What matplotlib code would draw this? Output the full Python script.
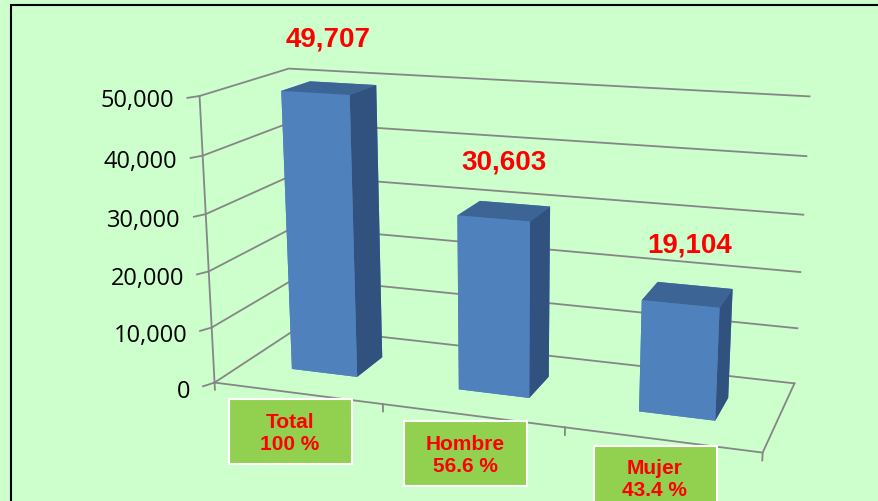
import matplotlib.pyplot as plt
import numpy as np
from matplotlib.patches import Rectangle
from matplotlib.transforms import IdentityTransform
from mpl_toolkits.mplot3d import proj3d

categories = ['Total', 'Hombre', 'Mujer']
shares = ['100 %', '56.6 %', '43.4 %']
values = [49707, 30603, 19104]
z_ticks = [0, 10000, 20000, 30000, 40000, 50000]

bg = '#CCFFCC'
grid_c = '#868686'
n = len(values)
plt.rcParams['font.family'] = ['Liberation Sans', 'DejaVu Sans']

fig = plt.figure(figsize=(8.79, 5.02), dpi=100)
fig.patch.set_facecolor(bg)
ax = fig.add_axes([0.066, 0.0, 1, 1], projection='3d', computed_zorder=False)
ax.set_facecolor(bg)
ax.set_axis_off()
ax.set_proj_type('persp', focal_length=0.56)
ax.view_init(elev=15, azim=-71)
ax.set_box_aspect((2.03, 0.69, 1.07), zoom=1.285)

line_kw = dict(color=grid_c, lw=1.3, zorder=1, clip_on=False)
# walls: grid lines on left and back wall
for z in z_ticks:
    ax.plot([0, 0, n], [0, 1, 1], [z, z, z], **line_kw)
    ax.plot([-0.03, 0], [-0.07, 0], [z, z], **line_kw)
    ax.text(-0.06, -0.15, z, f'{z:,}', ha='right', va='center',
            fontsize=17, family='Open Sans')
ax.plot([0, 0], [0, 0], [0, z_ticks[-1]], **line_kw)
ax.plot([0, n, n], [0, 0, 1], [0, 0, 0], **line_kw)
for i in range(n + 1):
    ax.plot([i, i], [0, 0], [0, -1300], **line_kw)

# bars, faces: bottom, top, front, back, left, right
w, d = 0.4, 0.34
face_cols = ['#4F81BD', '#3C6596', '#4F81BD', '#4F81BD', '#4F81BD', '#31527E'] * n
bars = ax.bar3d(np.arange(n) + 0.5 - w / 2, np.full(n, 0.5 - d / 2), np.zeros(n),
                w, d, values, color=face_cols, shade=False, zorder=2)
bars.set_clip_on(False)

for i, v in enumerate(values):
    ax.text(i + 0.5, 0.5, v + 8500, f'{v:,}', color='red', fontsize=20,
            fontweight='bold', ha='center', va='center', zorder=5)

ax.set_xlim(0, n)
ax.set_ylim(0, 1)
ax.set_zlim(0, z_ticks[-1])

# category boxes under the floor
fig.canvas.draw()
M = ax.get_proj()
for i, (c, s) in enumerate(zip(categories, shares)):
    px, py, _ = proj3d.proj_transform(i + 0.5, 0, 0, M)
    X, Y = ax.transData.transform((px, py))
    cx, cy = X - 7, Y - 39
    fig.add_artist(Rectangle((cx - 61, cy - 32), 123, 65, facecolor='#92D050',
                             edgecolor='white', lw=1.5, transform=IdentityTransform()))
    fig.text(cx, cy, f'{c}\n{s}', transform=IdentityTransform(), color='red',
             fontsize=15, fontweight='bold', ha='center', va='center', zorder=5)

fig.add_artist(Rectangle((11, -20), 1000, 516, fill=False, edgecolor='black',
                         lw=1.5, transform=IdentityTransform()))

fig.savefig('out.png', dpi=100, facecolor=bg)
